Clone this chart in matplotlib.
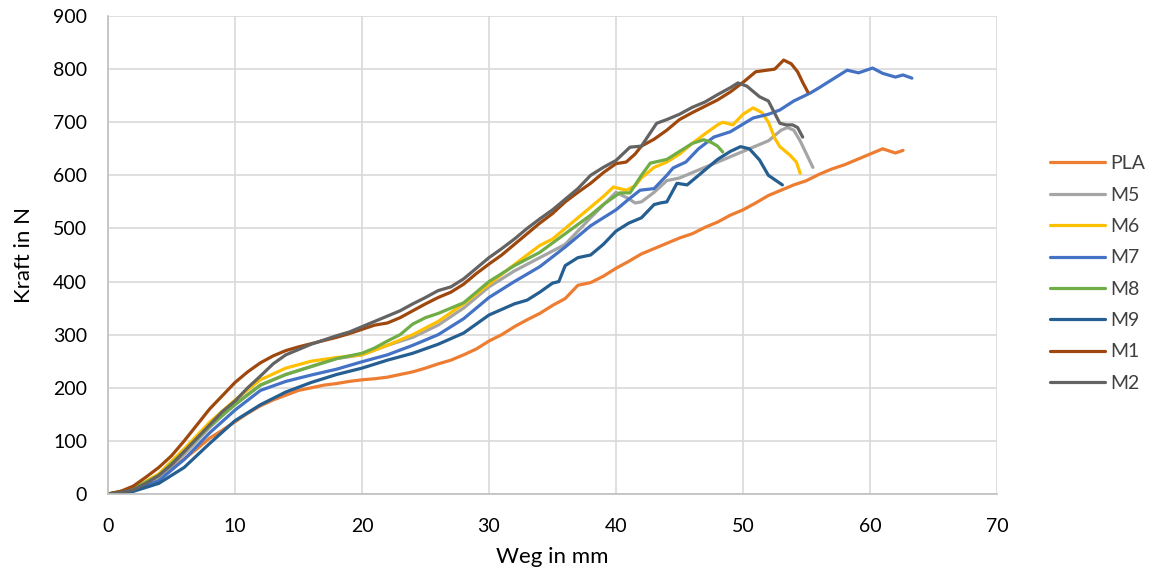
import numpy as np
import matplotlib.pyplot as plt

plt.rcParams['font.family'] = ['Lato', 'DejaVu Sans']

pla_x = [0, 1, 2, 3, 4, 5, 6, 7, 8, 9, 10, 11, 12, 13, 14, 15, 16, 17, 18, 19, 20, 21, 22, 23, 24, 25, 26, 27, 28, 29,
         30, 31, 32, 33, 34, 35, 36, 37, 38, 39, 40, 41, 42, 43, 44, 45, 46, 47, 48, 49, 50, 51, 52, 53, 54, 55, 56, 57,
         58, 59, 60, 61, 62, 62.6]
pla_y = [0, 3, 8, 18, 32, 48, 66, 85, 105, 120, 136, 152, 166, 177, 186, 195, 200, 205, 208, 212, 215, 217, 220, 225,
         230, 237, 245, 252, 262, 273, 288, 300, 315, 328, 340, 355, 368, 393, 398, 410, 425, 438, 452, 462, 472, 482,
         490, 502, 512, 525, 535, 548, 562, 572, 582, 590, 602, 612, 620, 630, 640, 650, 642, 647]

m5_x = [0, 2, 4, 6, 8, 10, 12, 14, 16, 18, 20, 22, 24, 26, 28, 30, 32, 34, 36, 38, 40, 41, 41.5, 42, 43, 44, 45, 46,
        47, 48, 49, 50, 51, 52, 53, 53.5, 54, 54.5, 55, 55.5]
m5_y = [0, 8, 30, 75, 125, 170, 205, 225, 240, 255, 262, 280, 295, 318, 350, 390, 420, 445, 470, 520, 568, 556, 548,
        550, 568, 590, 595, 605, 615, 625, 635, 645, 655, 665, 685, 690, 685, 665, 640, 615]

m6_x = [0, 2, 4, 6, 8, 10, 12, 14, 16, 18, 20, 22, 24, 26, 28, 30, 32, 34, 35, 36, 37, 38, 39, 39.8, 40.8, 41.5, 42,
        43, 44, 45, 46, 47, 48, 48.4, 49.2, 50, 50.8, 51.5, 52, 52.5, 52.9, 53.7, 54.2, 54.5]
m6_y = [0, 10, 38, 85, 135, 177, 215, 237, 250, 257, 262, 280, 300, 325, 358, 395, 432, 468, 480, 500, 520, 540, 560,
        578, 572, 580, 595, 615, 625, 640, 660, 678, 695, 700, 695, 715, 727, 718, 700, 670, 654, 638, 625, 604]

m7_x = [0, 2, 4, 6, 8, 10, 12, 14, 16, 18, 20, 22, 24, 26, 28, 30, 32, 34, 36, 38, 40, 41, 41.9, 43, 44, 44.5, 45.5,
        46.5, 47.7, 49, 50.8, 52, 52.9, 54, 55.3, 56, 57, 58.2, 59.1, 60.2, 61, 62, 62.6, 63.3]
m7_y = [0, 6, 25, 65, 115, 158, 195, 212, 224, 235, 249, 262, 280, 300, 330, 370, 400, 428, 465, 505, 535, 555, 572,
        575, 600, 614, 625, 650, 672, 682, 708, 715, 723, 740, 755, 765, 780, 798, 793, 802, 792, 785, 789, 783]

m8_x = [0, 2, 4, 6, 8, 10, 12, 14, 16, 18, 20, 21, 22, 23, 24, 25, 26, 28, 30, 32, 34, 36, 38, 39, 40.3, 41.1, 42,
        42.7, 44, 45, 46, 46.9, 47.5, 48, 48.4]
m8_y = [0, 10, 35, 80, 128, 168, 205, 225, 240, 255, 265, 275, 288, 300, 320, 332, 340, 360, 400, 430, 455, 490, 525,
        545, 567, 567, 600, 623, 630, 645, 660, 667, 662, 655, 644]

m9_x = [0, 2, 4, 6, 8, 10, 12, 14, 16, 18, 20, 22, 24, 26, 28, 30, 32, 33, 34, 35, 35.5, 36, 37, 38, 39, 40, 41, 42,
        43, 43.5, 44, 44.8, 45.6, 46, 47, 48, 49, 49.8, 50.5, 51.3, 52, 53.1]
m9_y = [0, 5, 20, 50, 95, 138, 168, 192, 210, 225, 237, 252, 265, 282, 303, 337, 358, 365, 380, 397, 400, 430, 445,
        450, 470, 495, 510, 520, 545, 548, 550, 585, 582, 590, 610, 630, 645, 654, 650, 629, 600, 582]

m1_x = [0, 1, 2, 3, 4, 5, 6, 7, 8, 9, 10, 11, 12, 13, 14, 15, 16, 17, 18, 19, 20, 21, 22, 23, 24, 25, 26, 27, 28, 29,
        30, 31, 32, 33, 34, 35, 36, 37, 38, 39, 40, 40.8, 41.5, 42, 43, 44, 45, 46, 47, 48, 49, 50, 51, 51.9, 52.5,
        53.2, 53.8, 54.3, 54.7, 55.1]
m1_y = [0, 5, 15, 32, 50, 72, 100, 130, 160, 185, 210, 230, 247, 260, 270, 277, 283, 289, 295, 302, 310, 318, 322,
        332, 345, 358, 370, 380, 395, 415, 433, 450, 470, 490, 510, 528, 550, 568, 585, 605, 622, 625, 640, 655, 668,
        685, 705, 718, 730, 742, 757, 775, 795, 798, 800, 817, 810, 795, 775, 757]

m2_x = [0, 1, 2, 3, 4, 5, 6, 7, 8, 9, 10, 11, 12, 13, 14, 15, 16, 17, 18, 19, 20, 21, 22, 23, 24, 25, 26, 27, 28, 29,
        30, 31, 32, 33, 34, 35, 36, 37, 38, 39, 40, 41.1, 42, 43.2, 44, 45, 46, 47, 48, 49, 49.6, 50.3, 51.3, 52,
        52.9, 53.4, 53.9, 54.3, 54.7]
m2_y = [0, 3, 8, 20, 35, 55, 80, 105, 130, 155, 175, 200, 222, 245, 262, 272, 282, 290, 298, 305, 315, 325, 335, 345,
        358, 370, 383, 390, 405, 425, 445, 462, 480, 500, 518, 535, 555, 575, 600, 615, 628, 653, 655, 698, 705, 715,
        728, 738, 752, 765, 774, 768, 748, 740, 698, 695, 695, 690, 672]

series = [
    ('PLA', pla_x, pla_y, '#ED7D31'),
    ('M5', m5_x, m5_y, '#A5A5A5'),
    ('M6', m6_x, m6_y, '#FFC000'),
    ('M7', m7_x, m7_y, '#4472C4'),
    ('M8', m8_x, m8_y, '#70AD47'),
    ('M9', m9_x, m9_y, '#255E91'),
    ('M1', m1_x, m1_y, '#9E480E'),
    ('M2', m2_x, m2_y, '#636363'),
]

fig = plt.figure(figsize=(11.51, 5.74), dpi=100)
ax = fig.add_axes([108/1151, 1 - 494/574, (997-108)/1151, (494-16)/574])

for name, xs, ys, col in series:
    ax.plot(xs, ys, color=col, lw=2.3, label=name, solid_capstyle='round', solid_joinstyle='round')

ax.set_xlim(0, 70)
ax.set_ylim(0, 900)
ax.set_xticks(np.arange(0, 71, 10))
ax.set_yticks(np.arange(0, 901, 100))
ax.grid(True, color='#D9D9D9', lw=1.2)
ax.set_axisbelow(True)
for s in ['top', 'right']:
    ax.spines[s].set_visible(False)
for s in ['left', 'bottom']:
    ax.spines[s].set_color('#BFBFBF')
    ax.spines[s].set_linewidth(1.2)
ax.tick_params(axis='y', length=0, labelsize=14, colors='#000000', pad=15)
ax.tick_params(axis='x', length=0, labelsize=14, colors='#000000', pad=17)
ax.set_xlabel('Weg in mm', fontsize=16, labelpad=9)
ax.set_ylabel('Kraft in N', fontsize=16, labelpad=14)

ax.legend(loc='center left', bbox_to_anchor=(1050/1151, 1 - 273.5/574), bbox_transform=fig.transFigure,
          frameon=False, fontsize=14, handlelength=2.85, handletextpad=0.25, labelspacing=0.74, borderpad=0,
          borderaxespad=0, labelcolor='#404040')

fig.savefig('out.png')
